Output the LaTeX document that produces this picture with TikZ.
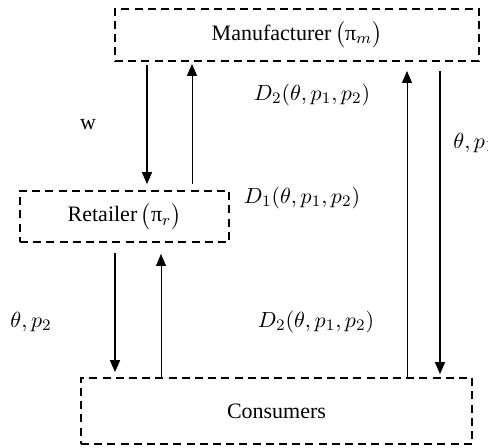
\documentclass[tikz,border=0pt]{standalone}
\usepackage{fontspec}
\setmainfont{Liberation Serif}
\usepackage{amsmath}
\usepackage{tikz}
\usetikzlibrary{arrows.meta}

\begin{document}
\begin{tikzpicture}[x=0.5pt,y=-0.5pt, font=\fontsize{11}{13}\selectfont,
        box/.style={draw, line width=0.9pt, dash pattern=on 4pt off 2.6pt, inner sep=0pt},
        flow/.style={line width=0.8pt, -{Triangle[width=5pt,length=6pt]}},
        back/.style={line width=0.5pt, -{Triangle[width=5pt,length=6pt]}}]
        \useasboundingbox (0,0) rectangle (488,447);

        % the three players
        \node[box, minimum width=182pt, minimum height=26pt] (mfr) at (297,35) {Manufacturer\,$\bigl(\text{π}_m\bigr)$};
        \node[box, minimum width=104.5pt, minimum height=25.5pt] (ret) at (124.5,216.5) {Retailer\,$\bigl(\text{π}_r\bigr)$};
        \node[box, minimum width=195.5pt, minimum height=33pt] (con) at (276.5,411) {Consumers};

        % columns of the arrows
        \coordinate (c1) at (147,0);
        \coordinate (c2) at (192,0);
        \coordinate (c3) at (115,0);
        \coordinate (c4) at (161,0);
        \coordinate (c5) at (407,0);
        \coordinate (c6) at (440,0);

        % manufacturer and retailer
        \draw[flow, shorten <=1.5pt, shorten >=3pt] (mfr.south -| c1) -- (ret.north -| c1);
        \draw[back, shorten <=3pt, shorten >=1pt] (ret.north -| c2) -- (mfr.south -| c2);
        \node (lw) at (88,125) {w};

        % retailer and consumers
        \draw[flow, shorten <=5pt, shorten >=2.5pt] (ret.south -| c3) -- (con.north -| c3);
        \draw[back, shorten >=5.5pt] (con.north -| c4) -- (ret.south -| c4);
        \node (ltp2) at (31,322) {$\theta, p_2$};

        % manufacturer and consumers
        \draw[back, shorten >=4.5pt] (con.north -| c5) -- (mfr.south -| c5);
        \draw[flow, shorten <=4.5pt, shorten >=1.5pt] (mfr.south -| c6) -- (con.north -| c6);
        \node[anchor=west, inner sep=0pt] (ltp1) at (453,143) {$\theta, p_1$};

        % demands
        \node (ld2a) at (312,95) {$D_2(\theta, p_1, p_2)$};
        \node (ld1) at (302,198) {$D_1(\theta, p_1, p_2)$};
        \node (ld2b) at (316,322) {$D_2(\theta, p_1, p_2)$};
    \end{tikzpicture}
\end{document}
